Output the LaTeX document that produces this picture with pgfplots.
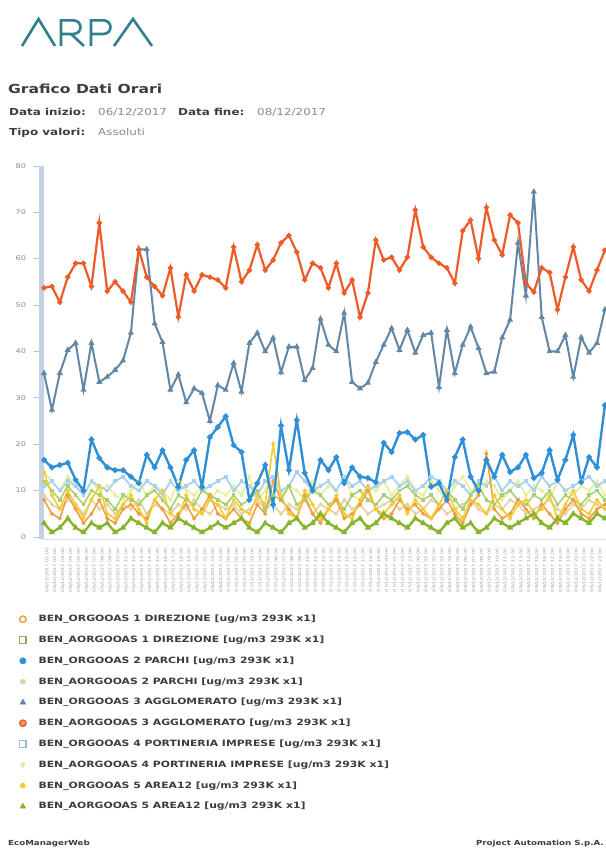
\documentclass[border=0pt]{standalone}
\usepackage{pgfplots}
\pgfplotsset{compat=1.18}
\usepackage{pgfplotstable}
\usepackage{fontspec}
\setmainfont{DejaVu Sans}[FakeStretch=1.25]

\definecolor{cRed}{HTML}{EE5A28}
\definecolor{cGray}{HTML}{6286A6}
\definecolor{cBlue}{HTML}{2E8FD6}
\definecolor{cOrange}{HTML}{F0A040}
\definecolor{cLGreen}{HTML}{A8D070}
\definecolor{cBeige}{HTML}{E2D2A4}
\definecolor{cLBlue}{HTML}{A6D2F0}
\definecolor{cPYellow}{HTML}{E8EE96}
\definecolor{cYellow}{HTML}{F2CC30}
\definecolor{cGreen}{HTML}{88B42C}
\definecolor{cTeal}{HTML}{2F7F8C}
\definecolor{cBar}{HTML}{C3D1E4}
\definecolor{txtdark}{HTML}{3C3C3C}
\definecolor{txtgray}{HTML}{8A8A8A}

\newcommand\mylab[1]{\edef\aa{\the\numexpr#1+1\relax}\edef\dd{\the\numexpr(2*\aa-23)/48\relax}\edef\hh{\the\numexpr\aa-24*\dd\relax}0\the\numexpr6+\dd\relax/12/2017 \ifnum\hh<10 0\fi\hh:00}

% AORGOOAS 3 AGGLOMERATO
\pgfplotstableread[row sep=\\]{v\\53.7\\54\\50.6\\56\\59\\59\\54\\67.7\\53\\55\\53\\50.6\\62\\56\\54\\52\\58\\47.4\\56.5\\53\\56.5\\56\\55.4\\53.7\\62.5\\55\\57.5\\63\\57.5\\59.7\\63.4\\65\\61.4\\55.4\\59\\58\\53.7\\59\\52.6\\55.4\\47.4\\52.6\\64\\59.7\\60.3\\57.5\\60.3\\70.5\\62.5\\60.3\\59\\58\\54.7\\66\\68.3\\60\\71\\64\\60.8\\69.4\\67.7\\54.7\\52.8\\58\\57\\49\\56\\62.5\\55.4\\53\\57.5\\61.8\\}\tAtre
% ORGOOAS 3 AGGLOMERATO
\pgfplotstableread[row sep=\\]{v\\35.3\\27.4\\35.3\\40.3\\41.8\\31.7\\41.8\\33.4\\34.5\\36\\38\\44\\62\\62\\46\\42\\31.7\\35\\29\\32\\31\\25\\32.7\\31.7\\37.5\\31.3\\41.8\\44\\40\\42.9\\35.5\\41\\41\\33.8\\36.4\\47\\41.4\\40\\48.3\\33.4\\32\\33.2\\37.7\\41.4\\45\\40.3\\44.6\\39.7\\43.5\\44\\32.3\\44.6\\35.3\\41.4\\45.3\\40.7\\35.3\\35.6\\43\\46.8\\63.4\\52\\74.4\\47.4\\40\\40\\43.5\\34.5\\43\\39.7\\41.8\\49\\}\tOtre
% ORGOOAS 2 PARCHI
\pgfplotstableread[row sep=\\]{v\\16.6\\15\\15.5\\16\\12.3\\10\\21\\17\\15\\14.4\\14.4\\13\\11.6\\17.7\\15\\18.7\\15\\10.8\\16.6\\18.7\\10.8\\21.5\\23.7\\26\\19.8\\18.3\\8\\11.6\\15.5\\7\\24\\14.4\\25.2\\13.8\\10\\16.6\\14.4\\17.2\\11.6\\15\\13\\12.7\\11.8\\20.3\\18.3\\22.4\\22.6\\21\\22\\10.8\\11.6\\8\\17.2\\21\\13\\10\\16.6\\13\\17.7\\14\\15\\17.7\\12.7\\13.8\\18.7\\12.3\\16.6\\22\\11.8\\17.2\\15\\28.4\\}\tOdue
% ORGOOAS 4 PORTINERIA IMPRESE
\pgfplotstableread[row sep=\\]{v\\11\\12\\10\\12\\11\\9\\12\\11\\10\\12\\13\\11\\10\\12\\11\\9\\12\\10\\11\\12\\10\\11\\12\\13\\10\\12\\11\\9\\12\\13\\10\\11\\14\\12\\10\\11\\12\\10\\13\\11\\12\\10\\11\\12\\13\\11\\12\\10\\11\\13\\12\\10\\12\\11\\9\\12\\11\\13\\10\\12\\11\\12\\10\\13\\11\\12\\10\\11\\12\\13\\11\\12\\}\tOquattro
% AORGOOAS 1 DIREZIONE
\pgfplotstableread[row sep=\\]{v\\12\\10\\8\\11\\9\\7\\10\\9\\8\\6\\9\\8\\7\\9\\10\\8\\6\\9\\8\\7\\10\\9\\8\\7\\9\\7\\8\\10\\6\\9\\8\\11\\7\\8\\10\\9\\7\\8\\6\\9\\10\\8\\7\\9\\8\\10\\11\\9\\8\\9\\7\\10\\8\\6\\9\\11\\8\\7\\9\\10\\8\\7\\9\\8\\10\\7\\9\\8\\7\\9\\10\\8\\}\tAuno
% AORGOOAS 4 PORTINERIA IMPRESE
\pgfplotstableread[row sep=\\]{v\\14\\12\\10\\13\\11\\9\\12\\10\\11\\9\\8\\10\\12\\9\\11\\10\\8\\12\\10\\9\\11\\8\\10\\9\\11\\9\\13\\8\\10\\12\\9\\11\\10\\8\\12\\9\\11\\10\\13\\9\\8\\11\\10\\12\\9\\11\\13\\10\\9\\12\\10\\8\\11\\13\\10\\9\\12\\11\\8\\10\\12\\9\\11\\10\\8\\12\\10\\9\\11\\10\\12\\9\\}\tAquattro
% AORGOOAS 2 PARCHI
\pgfplotstableread[row sep=\\]{v\\9\\7\\6\\8\\7\\5\\8\\6\\7\\5\\7\\6\\8\\5\\7\\6\\5\\7\\6\\8\\6\\5\\7\\6\\7\\5\\6\\8\\6\\7\\5\\7\\6\\8\\5\\7\\6\\5\\8\\6\\7\\5\\6\\7\\8\\6\\7\\5\\6\\8\\7\\5\\6\\7\\8\\6\\5\\7\\6\\8\\7\\5\\6\\7\\8\\6\\5\\7\\6\\8\\7\\6\\}\tAdue
% ORGOOAS 1 DIREZIONE
\pgfplotstableread[row sep=\\]{v\\8\\5\\4\\9\\6\\3\\5\\8\\4\\3\\6\\7\\5\\4\\8\\6\\3\\5\\7\\4\\6\\9\\5\\4\\6\\4\\3\\7\\5\\12\\8\\6\\4\\9\\5\\3\\6\\8\\4\\5\\7\\10\\6\\4\\5\\8\\6\\7\\5\\4\\6\\8\\5\\3\\7\\9\\18\\6\\4\\5\\8\\6\\4\\7\\5\\3\\6\\8\\5\\4\\6\\7\\}\tOuno
% ORGOOAS 5 AREA12
\pgfplotstableread[row sep=\\]{v\\14\\9\\6\\10\\7\\4\\8\\11\\5\\4\\7\\9\\6\\3\\8\\10\\5\\4\\9\\6\\5\\8\\7\\4\\8\\6\\5\\9\\7\\20\\9\\5\\4\\10\\7\\4\\6\\9\\5\\4\\8\\11\\6\\5\\7\\9\\5\\8\\6\\4\\7\\10\\6\\4\\8\\7\\5\\9\\6\\4\\7\\8\\5\\6\\9\\4\\7\\10\\6\\5\\8\\6\\}\tOcinque
% AORGOOAS 5 AREA12
\pgfplotstableread[row sep=\\]{v\\3\\1\\2\\4\\2\\1\\3\\2\\3\\1\\2\\4\\3\\2\\1\\3\\2\\4\\3\\2\\1\\2\\3\\2\\3\\4\\2\\1\\3\\2\\1\\3\\4\\2\\3\\5\\3\\2\\1\\3\\4\\2\\3\\5\\4\\3\\2\\4\\3\\2\\1\\3\\4\\2\\3\\1\\2\\4\\3\\2\\3\\4\\5\\3\\2\\4\\3\\5\\4\\3\\5\\4\\}\tAcinque

\begin{document}
\begin{tikzpicture}
\useasboundingbox (0,0) rectangle (606bp,-848bp);
\begin{scope}[x=1bp,y=-1bp]
% logo
\begin{scope}[line width=2.6bp, draw=cTeal, line join=miter, line cap=butt]
\draw (22,46) -- (38.5,19) -- (55,46);
\draw (61,46) -- (61,20.3) -- (73,20.3) .. controls (83,20.3) and (83,34) .. (73,34) -- (61,34);
\draw (71,34) -- (84,46);
\draw (91,46) -- (91,20.3) -- (103,20.3) .. controls (113,20.3) and (113,34) .. (103,34) -- (91,34);
\draw (114,46) -- (133,19) -- (152,46);
\end{scope}
\node[anchor=base west, inner sep=0pt, font=\bfseries\fontsize{12.5}{14}\selectfont, text=txtdark] at (8,93) {Grafico Dati Orari};
\node[anchor=base west, inner sep=0pt, font=\bfseries\fontsize{9.6}{11}\selectfont, text=txtdark] at (9,115) {Data inizio:};
\node[anchor=base west, inner sep=0pt, font=\fontsize{9.6}{11}\selectfont, text=txtgray] at (98,115) {06/12/2017};
\node[anchor=base west, inner sep=0pt, font=\bfseries\fontsize{9.6}{11}\selectfont, text=txtdark] at (178,115) {Data fine:};
\node[anchor=base west, inner sep=0pt, font=\fontsize{9.6}{11}\selectfont, text=txtgray] at (257,115) {08/12/2017};
\node[anchor=base west, inner sep=0pt, font=\bfseries\fontsize{9.6}{11}\selectfont, text=txtdark] at (9,135) {Tipo valori:};
\node[anchor=base west, inner sep=0pt, font=\fontsize{9.6}{11}\selectfont, text=txtgray] at (98,135) {Assoluti};
\node[anchor=base west, inner sep=0pt, font=\bfseries\fontsize{7}{8}\selectfont, text=txtdark] at (8,845) {EcoManagerWeb};
\node[anchor=base east, inner sep=0pt, font=\bfseries\fontsize{7}{8}\selectfont, text=txtdark] at (604,845) {Project Automation S.p.A.};
\end{scope}

\begin{axis}[
  at={(41.5bp,-539.3bp)}, anchor=south west,
  scale only axis, width=564.5bp, height=373.5bp,
  xmin=-0.32, xmax=71.14, ymin=-0.5, ymax=80,
  axis x line*=bottom, axis y line*=left,
  y axis line style={line width=5bp, draw=cBar},
  x axis line style={line width=0.8bp, draw=cBar!70},
  ytick={0,10,...,80},
  xtick={0,...,71},
  xtick style={draw=none},
  ytick style={draw=gray!50, line width=0.6bp},
  major tick length=8bp,
  tick align=outside,
  /pgf/number format/assume math mode=true,
  yticklabel style={font=\fontsize{6.5}{7}\selectfont, text=txtgray, xshift=-4bp},
  xticklabel={\mylab{\ticknum}},
  xticklabel style={rotate=90, anchor=east, font=\fontsize{3.9}{4.5}\selectfont, text=gray!80, inner sep=1bp, yshift=-3bp},
  legend cell align=left,
  legend style={at={(axis description cs:-0.039,-0.1987)}, anchor=north west, draw=none, fill=none,
    inner sep=0pt, row sep=9.8bp, column sep=11.5bp,
    font=\bfseries\fontsize{8.7}{10}\selectfont, text=txtdark,
    nodes={inner sep=1bp, text height=7bp, text depth=2bp}},
]
\addplot[forget plot, cPYellow, line width=1.6bp, mark=diamond*, mark size=1.2bp] table[x expr=\coordindex, y=v] {\tAquattro};
\addplot[forget plot, cBeige, line width=1.6bp, mark=*, mark size=1bp] table[x expr=\coordindex, y=v] {\tAdue};
\addplot[forget plot, cLBlue, line width=1.8bp, mark=square*, mark size=1bp] table[x expr=\coordindex, y=v] {\tOquattro};
\addplot[forget plot, cLGreen, line width=1.6bp, mark=square*, mark size=1bp] table[x expr=\coordindex, y=v] {\tAuno};
\addplot[forget plot, cOrange, line width=1.6bp, mark=*, mark size=1.1bp] table[x expr=\coordindex, y=v] {\tOuno};
\addplot[forget plot, cYellow, line width=1.6bp, mark=*, mark size=1.1bp] table[x expr=\coordindex, y=v] {\tOcinque};
\addplot[forget plot, cGreen, line width=2.4bp, mark=triangle*, mark size=1.3bp] table[x expr=\coordindex, y=v] {\tAcinque};
\addplot[forget plot, cBlue, line width=2.4bp, mark=*, mark size=1.5bp] table[x expr=\coordindex, y=v] {\tOdue};
\addplot[forget plot, cGray, line width=2bp, mark=triangle*, mark size=1.6bp] table[x expr=\coordindex, y=v] {\tOtre};
\addplot[forget plot, cRed, line width=2.2bp, mark=*, mark size=1.4bp, mark options={fill=cOrange}] table[x expr=\coordindex, y=v] {\tAtre};

\addlegendimage{only marks, cOrange, mark=o, mark size=3.2bp, mark options={line width=1.5bp}}
\addlegendentry{BEN\_ORGOOAS 1 DIREZIONE [ug/m3 293K x1]}
\addlegendimage{only marks, cLGreen!85!black, mark=square, mark size=3.2bp, mark options={line width=1.2bp}}
\addlegendentry{BEN\_AORGOOAS 1 DIREZIONE [ug/m3 293K x1]}
\addlegendimage{only marks, cBlue, mark=*, mark size=3.2bp}
\addlegendentry{BEN\_ORGOOAS 2 PARCHI [ug/m3 293K x1]}
\addlegendimage{only marks, cBeige, mark=*, mark size=2.6bp}
\addlegendentry{BEN\_AORGOOAS 2 PARCHI [ug/m3 293K x1]}
\addlegendimage{only marks, cGray, mark=triangle*, mark size=3.4bp}
\addlegendentry{BEN\_ORGOOAS 3 AGGLOMERATO [ug/m3 293K x1]}
\addlegendimage{only marks, cRed, mark=*, mark size=3.2bp, mark options={fill=cOrange, line width=1.4bp}}
\addlegendentry{BEN\_AORGOOAS 3 AGGLOMERATO [ug/m3 293K x1]}
\addlegendimage{only marks, cLBlue!90!black, mark=square, mark size=3.2bp, mark options={line width=1.2bp}}
\addlegendentry{BEN\_ORGOOAS 4 PORTINERIA IMPRESE [ug/m3 293K x1]}
\addlegendimage{only marks, cPYellow, mark=diamond*, mark size=3.2bp}
\addlegendentry{BEN\_AORGOOAS 4 PORTINERIA IMPRESE [ug/m3 293K x1]}
\addlegendimage{only marks, cYellow, mark=*, mark size=2.6bp}
\addlegendentry{BEN\_ORGOOAS 5 AREA12 [ug/m3 293K x1]}
\addlegendimage{only marks, cGreen, mark=triangle*, mark size=3.4bp}
\addlegendentry{BEN\_AORGOOAS 5 AREA12 [ug/m3 293K x1]}
\end{axis}
\end{tikzpicture}
\end{document}
